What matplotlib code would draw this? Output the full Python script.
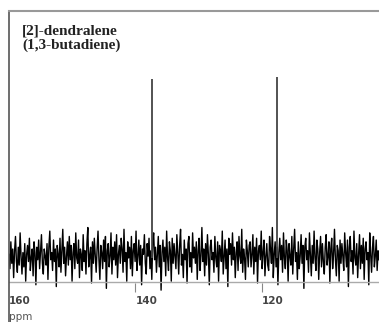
import numpy as np
import matplotlib.pyplot as plt

# 13C spectrum of [2]-dendralene
peak_ppm = [137.4, 117.6]
peak_height = [100, 101]
tick_ppm = [160, 140, 120]
label_lines = ["[2]-dendralene", "(1,3-butadiene)"]

noise = [
    2, -6, 9, -3, 5, -11, 4, 12, -2, -8, 6, -4, 14, 1, -9, 3, -5, 8, -13, 2,
    7, -2, 11, -7, 0, 5, -10, 9, 3, -15, 6, -1, 10, -6, 4, 13, -3, -9, 5, 1,
    -4, 8, -12, 6, 15, -1, 3, -7, 10, -2, 5, -16, 7, 2, -5, 11, -8, 4, 16, -3,
    6, -10, 1, 9, -4, 12, -1, 7, -13, 3, 8, -6, 14, 0, -3, 10, -11, 5, 2, -7,
    13, -2, 4, -9, 8, 17, -5, 1, 6, -14, 9, -3, 11, 2, -8, 5, 15, -1, -12, 7,
    3, -6, 10, -2, 12, -17, 4, 8, -5, 1, 14, -9, 6, -1, 9, -4, 13, -11, 2, 7,
    -3, 11, 5, -8, 16, -2, 3, -13, 9, 0, 6, -6, 12, -10, 4, 8, -2, 15, -7, 1,
    10, -4, 7, -15, 5, 2, 13, -3, -9, 8, 1, 11, -6, 4, -12, 9, 14, -1, 6, -8,
    2, 12, -5, 7, -18, 3, 10, -2, 6, -10, 15, 0, -7, 9, 4, -13, 11, -3, 8, 1,
    -6, 13, 3, -9, 7, 16, -4, 2, -11, 10, -1, 5, -14, 8, 12, -5, 3, -8, 14, 0,
    6, -3, 9, -12, 4, 11, -7, 1, 17, -2, 5, -10, 8, -4, 13, 2, -15, 6, 10, -1,
    3, -8, 12, 0, -5, 9, -13, 7, 4, -2, 15, -9, 1, 10, -6, 5, -16, 11, 2, 8,
    -4, 14, -1, 6, -11, 3, 9, -7, 12, 1, -3, 16, -8, 5, 0, -12, 10, 4, -5, 7,
    9, -5, 2, 13, -9, 6, -2, 11, -14, 4, 7, -1, 15, -6, 3, 10, -10, 1, 8, -4,
    -7, 12, 5, -3, 17, -11, 2, 9, -5, 6, -15, 3, 11, -1, 7, -8, 14, 0, -6, 10,
    4, -13, 8, 1, -4, 12, -9, 5, 16, -2, 3, -12, 9, -6, 1, 13, -3, 7, -17, 6,
    11, -1, 4, -8, 14, 2, -10, 7, -3, 15, 0, -7, 10, 5, -12, 3, 12, -5, 8, -2,
    -9, 6, 13, -4, 1, 9, -14, 5, 11, -6, 2, 16, -1, -10, 7, 4, -13, 10, -3, 8,
    1, -7, 14, 3, -5, 10, -16, 6, 12, -2, 4, -9, 15, 0, -4, 8, -11, 2, 13, -6,
    7, -3, 11, -12, 5, 9, -1, 3, -15, 14, 2, -8, 6, 12, -5, 1, 10, -7, 4, -1,
]

x_left, x_right = 160, 101.5
ppm = np.linspace(x_left, x_right, len(noise))

fig = plt.figure(figsize=(3.79, 3.22), dpi=100)
ax = fig.add_axes([9 / 379, 0, 1 - 9 / 379, 1 - 11 / 322])
ax.set_xlim(x_left, x_right)
ax.set_ylim(-35.8, 138)

ax.plot(ppm, noise, color='black', lw=1.0)
ax.vlines(peak_ppm, 0, peak_height, color='#444444', lw=1.3)

# baseline axis drawn inside the frame, as in the scan
ax.axhline(-13.4, color='#aaaaaa', lw=1)
ax.vlines(tick_ppm[1:], -19, -14, color='#888888', lw=0.8)
for t in tick_ppm:
    ax.text(t, -24, str(t), ha='left', va='center', fontsize=7.5,
            fontweight='bold', color='#444444', family='DejaVu Sans')
ax.text(160, -33, 'ppm', ha='left', va='center', fontsize=7.5,
        color='#555555', family='DejaVu Sans')

ax.text(0.035, 0.955, "\n".join(label_lines), transform=ax.transAxes,
        ha='left', va='top', fontsize=11, fontweight='bold',
        family='Liberation Serif', color='#222222', linespacing=1.05)

ax.set_xticks([])
ax.set_yticks([])
for s in ['right', 'bottom']:
    ax.spines[s].set_visible(False)
ax.spines['left'].set_color('#555555')
ax.spines['left'].set_linewidth(1.2)
ax.spines['top'].set_color('#999999')
ax.spines['top'].set_linewidth(1.5)

fig.savefig('out.png', dpi=100)
